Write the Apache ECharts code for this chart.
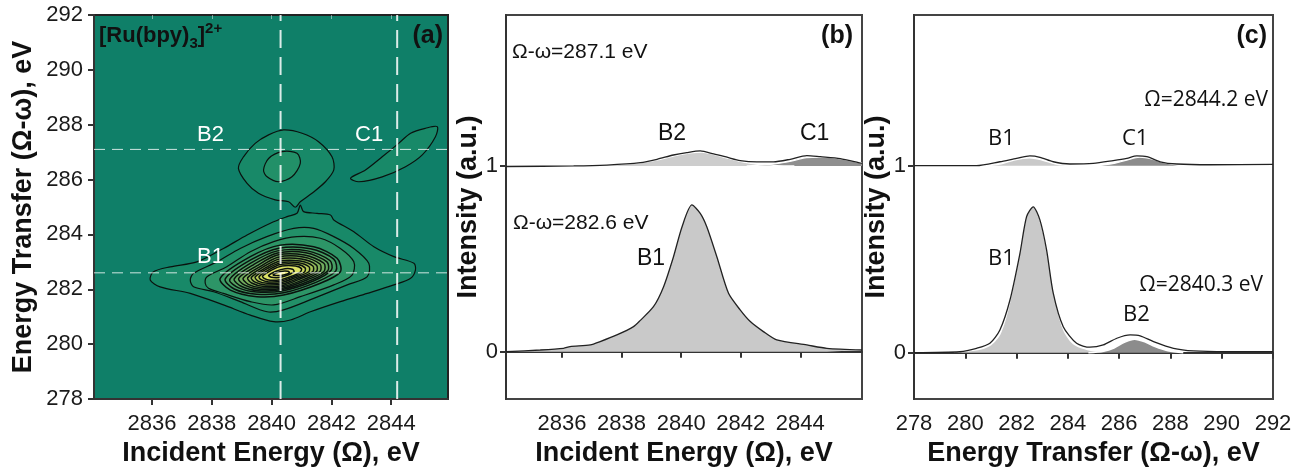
<!DOCTYPE html>
<html>
<head>
<meta charset="utf-8">
<script src="https://cdn.jsdelivr.net/npm/echarts@6/dist/echarts.min.js"></script>
<style>
  html, body { margin: 0; padding: 0; background: #fff; }
  #chart { width: 1305px; height: 467px; }
</style>
</head>
<body>
<div id="chart"></div>
<script>
// ---- data ----
// tick values
const incTicks = [2836, 2838, 2840, 2842, 2844];
const intTicks = [0, 1];

// cuts shown as dashed lines in (a)
const cutIncident = [2840.3, 2844.2];
const cutTransfer = [287.1, 282.6];

// contour rings of the RIXS map, [incident, transfer], outer -> inner
const b1Ring1 = [[2835.94,282.34],[2836.05,282.64],[2836.61,282.82],[2837.5,283.0],[2838.39,283.49],[2839.18,283.98],[2839.96,284.41],[2840.52,284.65],[2840.85,284.77],[2840.96,285.07],[2841.07,284.83],[2841.52,284.77],[2841.97,284.71],[2842.08,284.53],[2842.75,284.1],[2843.42,283.55],[2844.09,283.19],[2844.76,282.95],[2844.81,282.7],[2844.65,282.4],[2844.09,282.16],[2843.2,281.85],[2842.3,281.55],[2841.3,281.18],[2840.63,280.88],[2840.07,280.82],[2839.29,281.06],[2838.39,281.43],[2837.28,281.85],[2836.27,282.09]];
const b1Ring2 = [[2837.28,282.34],[2837.39,282.58],[2838.17,283.0],[2838.95,283.49],[2839.84,283.92],[2840.74,284.22],[2841.41,284.22],[2842.08,283.92],[2842.75,283.49],[2843.25,282.95],[2843.2,282.46],[2842.53,282.16],[2841.41,281.67],[2840.4,281.25],[2839.85,281.18],[2838.95,281.55],[2838.06,281.91],[2837.39,282.09]];
const b1Ring3 = [[2837.78,282.22],[2837.84,282.46],[2838.5,282.82],[2839.29,283.37],[2840.07,283.74],[2840.85,283.92],[2841.63,283.86],[2842.3,283.49],[2842.75,283.0],[2842.69,282.52],[2842.08,282.16],[2840.96,281.73],[2840.07,281.43],[2839.29,281.55],[2838.39,281.85],[2837.89,282.04]];
const b1Ring4 = [[2838.28,282.4],[2839.29,283.19],[2840.29,283.61],[2841.41,283.55],[2842.19,283.13],[2842.3,282.64],[2841.63,282.22],[2840.4,281.79],[2839.51,281.73],[2838.62,281.97]];
const b1Ring4b = [[2838.45,282.38],[2839.3,283.07],[2840.25,283.5],[2841.3,283.48],[2842.08,283.1],[2842.15,282.67],[2841.5,282.26],[2840.4,281.87],[2839.5,281.82],[2838.75,282.01]];
const b1Ring5 = [[2838.6,282.35],[2839.3,282.95],[2840.2,283.4],[2841.2,283.4],[2841.95,283.05],[2842.0,282.7],[2841.4,282.3],[2840.4,281.95],[2839.5,281.9],[2838.9,282.05]];
const b1Ring5b = [[2838.75,282.38],[2839.4,282.9],[2840.2,283.32],[2841.15,283.33],[2841.85,283.0],[2841.88,282.68],[2841.3,282.32],[2840.4,282.0],[2839.55,281.95],[2839.0,282.1]];
const b1Ring6 = [[2838.9,282.4],[2839.5,282.85],[2840.2,283.25],[2841.1,283.25],[2841.75,282.95],[2841.75,282.65],[2841.2,282.35],[2840.4,282.05],[2839.6,282.0],[2839.1,282.15]];
const b1Ring6b = [[2839.05,282.41],[2839.6,282.82],[2840.22,283.17],[2841.05,283.18],[2841.62,282.92],[2841.62,282.65],[2841.1,282.37],[2840.4,282.1],[2839.68,282.05],[2839.22,282.18]];
const b1Ring7 = [[2839.2,282.42],[2839.7,282.8],[2840.25,283.1],[2841.0,283.1],[2841.5,282.88],[2841.5,282.65],[2841.0,282.4],[2840.4,282.15],[2839.75,282.1],[2839.35,282.22]];
const b1Ring7b = [[2839.32,282.43],[2839.78,282.77],[2840.28,283.03],[2840.95,283.03],[2841.38,282.85],[2841.38,282.65],[2840.92,282.42],[2840.38,282.2],[2839.8,282.16],[2839.45,282.26]];
const b1Ring8 = [[2839.45,282.45],[2839.85,282.75],[2840.3,282.97],[2840.9,282.97],[2841.25,282.82],[2841.25,282.65],[2840.85,282.45],[2840.35,282.25],[2839.85,282.22],[2839.55,282.3]];
const b1Ring8b = [[2839.58,282.46],[2839.92,282.72],[2840.32,282.91],[2840.85,282.91],[2841.12,282.78],[2841.1,282.63],[2840.72,282.45],[2840.32,282.3],[2839.9,282.27],[2839.65,282.35]];
const b1Ring9 = [[2839.7,282.48],[2840.0,282.7],[2840.35,282.85],[2840.8,282.85],[2841.0,282.75],[2840.95,282.62],[2840.6,282.45],[2840.3,282.35],[2839.95,282.33],[2839.75,282.4]];
const b1Ring10 = [[2839.9,282.5],[2840.15,282.66],[2840.45,282.75],[2840.7,282.73],[2840.75,282.64],[2840.5,282.5],[2840.25,282.43],[2840.0,282.44]];
const b1Ring11 = [[2840.05,282.53],[2840.3,282.65],[2840.55,282.66],[2840.6,282.6],[2840.4,282.52],[2840.15,282.5]];
const b2Ring1 = [[2838.89,286.41],[2839.06,286.83],[2839.45,287.32],[2839.9,287.63],[2840.4,287.81],[2841.02,287.69],[2841.57,287.38],[2842.02,286.83],[2842.08,286.35],[2841.8,285.92],[2841.35,285.5],[2840.96,285.19],[2840.79,284.99],[2840.57,285.19],[2840.12,285.26],[2839.56,285.5],[2839.18,285.86]];
const b2Ring2 = [[2839.73,286.35],[2839.9,286.77],[2840.35,287.02],[2840.85,286.96],[2840.96,286.59],[2840.68,286.1],[2840.23,285.92],[2839.85,286.1]];
const c1Ring1 = [[2842.64,286.05],[2843.14,286.35],[2843.7,286.83],[2844.25,287.32],[2844.65,287.69],[2845.15,287.87],[2845.54,287.93],[2845.48,287.56],[2845.04,286.9],[2844.48,286.47],[2843.7,286.1],[2842.92,285.92]];

const contourRings = [b1Ring1, b1Ring2, b1Ring3, b1Ring4, b1Ring4b, b1Ring5, b1Ring5b, b1Ring6, b1Ring6b, b1Ring7, b1Ring7b, b1Ring8, b1Ring8b, b1Ring9, b1Ring10, b1Ring11, b2Ring1, b2Ring2, c1Ring1];
const ringLevel = [1, 2, 3, 4, 5, 6, 7, 8, 9, 10, 11, 12, 13, 14, 15, 16, 1, 2, 1];

// (b) cuts at constant energy transfer, [incident, intensity]
const bCut282 = [[2834.12,0.0],[2835.27,0.009],[2836.05,0.018],[2836.27,0.027],[2836.95,0.036],[2837.28,0.054],[2837.84,0.09],[2838.4,0.135],[2838.62,0.167],[2839.07,0.242],[2839.41,0.35],[2839.74,0.51],[2840.03,0.673],[2840.36,0.79],[2840.64,0.745],[2840.86,0.673],[2841.2,0.51],[2841.59,0.314],[2841.98,0.225],[2842.32,0.162],[2842.76,0.108],[2843.21,0.063],[2844.22,0.036],[2844.89,0.018],[2846.07,0.009]];
const bCut287 = [[2834.12,0.997],[2836.39,1.0],[2837.51,1.005],[2838.63,1.018],[2839.19,1.036],[2839.74,1.059],[2840.19,1.072],[2840.64,1.081],[2841.09,1.065],[2841.54,1.047],[2841.98,1.029],[2842.54,1.022],[2843.1,1.022],[2843.66,1.036],[2844.22,1.056],[2844.67,1.05],[2845.34,1.04],[2846.07,1.014]];
const bFitB2 = [[2836.5,1.0],[2837.5,1.004],[2838.5,1.015],[2839.2,1.033],[2839.8,1.055],[2840.3,1.07],[2840.7,1.075],[2841.1,1.062],[2841.6,1.04],[2842.1,1.02],[2842.6,1.008],[2843.2,1.002],[2843.8,1.0]];
const bFitC1 = [[2842.2,1.0],[2842.8,1.006],[2843.3,1.015],[2843.8,1.03],[2844.2,1.045],[2844.7,1.048],[2845.3,1.04],[2845.8,1.025],[2846.07,1.015]];

// (c) cuts at constant incident energy, [transfer, intensity]
const cCut2840 = [[278,0.0],[279.79,0.005],[280.44,0.023],[280.96,0.05],[281.35,0.121],[281.74,0.28],[282.13,0.53],[282.39,0.727],[282.65,0.78],[282.91,0.71],[283.17,0.55],[283.43,0.318],[283.82,0.139],[284.34,0.05],[284.86,0.029],[285.38,0.041],[285.91,0.077],[286.43,0.095],[286.82,0.09],[287.34,0.059],[288.12,0.023],[288.9,0.009],[290.2,0.005],[292,0.005]];
const cCut2844 = [[278,1.0],[280.44,1.0],[281.35,1.021],[282.0,1.039],[282.52,1.052],[282.91,1.045],[283.43,1.021],[284.08,1.009],[284.99,1.012],[285.77,1.027],[286.3,1.039],[286.69,1.052],[287.08,1.048],[287.6,1.021],[288.25,1.009],[289.55,1.005],[292,1.007]];
const cFitB1 = [[279.5,0],[280.5,0.013],[281.0,0.038],[281.4,0.105],[281.75,0.265],[282.1,0.51],[282.4,0.72],[282.65,0.78],[282.9,0.71],[283.2,0.52],[283.45,0.31],[283.8,0.125],[284.2,0.045],[284.8,0.012],[285.5,0]];
const cFitB2 = [[284.8,0],[285.4,0.008],[285.8,0.025],[286.2,0.055],[286.6,0.072],[287.0,0.058],[287.4,0.032],[287.9,0.01],[288.5,0]];
const cFitB1up = [[280.8,1.0],[281.4,1.01],[281.9,1.03],[282.5,1.042],[283.0,1.03],[283.5,1.01],[284.0,1.0]];
const cFitC1up = [[285.2,1.0],[285.8,1.012],[286.3,1.03],[286.8,1.045],[287.3,1.035],[287.8,1.015],[288.4,1.0]];

// ---- styling ----
const levelColors = ['#0f7f68', '#188968', '#229068', '#2d9567', '#3a9a66', '#479f64', '#55a462', '#63a960', '#72ae5e', '#82b35c', '#93ba5a', '#a5c258', '#b8cb58', '#cbd65c', '#dde265', '#ece970', '#f7f282'];
const sans = 'Liberation Sans, Arial, sans-serif';
const openSans = 'Open Sans, sans-serif';
const tickLbl = { fontSize: 22, color: '#1a1a1a', fontFamily: sans, formatter: v => String(v) };
const titleTxt = { fontSize: 27, fontWeight: 'bold', color: '#111', fontFamily: sans };
const frame = { show: true, lineStyle: { color: '#333', width: 2 } };
const outTick = { show: true, length: 6, lineStyle: { color: '#333', width: 2 } };

let myChart = echarts.init(document.getElementById('chart'));

function dashed(xs, ys, lineStyle) {
  return { type: 'line', xAxisIndex: 0, yAxisIndex: 0, data: xs.map((x, i) => [x, ys[i]]), showSymbol: false, silent: true, z: 5, lineStyle: lineStyle };
}
function curve(xi, yi, data, z) {
  return { type: 'line', xAxisIndex: xi, yAxisIndex: yi, data: data, showSymbol: false, smooth: 0.25, z: z, lineStyle: { color: '#222', width: 1.3 } };
}
function fill(xi, yi, data, color, base, edge, z) {
  return { type: 'line', xAxisIndex: xi, yAxisIndex: yi, data: data, showSymbol: false, smooth: 0.3, z: z,
    lineStyle: { color: '#fff', width: edge }, areaStyle: { color: color, opacity: 1, origin: base } };
}

const series = [
  {
    type: 'custom', xAxisIndex: 0, yAxisIndex: 0, z: 2, silent: true,
    data: contourRings.map(r => r[0]),
    renderItem: function (params, api) {
      const lvl = ringLevel[params.dataIndex];
      const pts = contourRings[params.dataIndex].map(p => api.coord(p));
      return { type: 'polygon', shape: { points: pts, smooth: 0.3 },
        style: { fill: levelColors[lvl], stroke: '#0a120e', lineWidth: lvl > 3 ? 1.5 : 1.2 } };
    }
  }
];
// dashed cut lines
cutIncident.forEach(x => series.push(dashed([x, x], [278, 292], { color: 'rgba(255,255,255,0.85)', width: 2, type: [18, 9] })));
cutTransfer.forEach(y => series.push(dashed([2834.06, 2845.9], [y, y], { color: 'rgba(255,255,255,0.8)', width: 1, type: [11, 7] })));

// (b)
series.push({ type: 'line', xAxisIndex: 2, yAxisIndex: 1, data: bCut282, showSymbol: false, smooth: 0.25, z: 3,
  lineStyle: { color: '#222', width: 1.3 }, areaStyle: { color: '#c9c9c9', opacity: 1, origin: 0 } });
series.push(fill(2, 1, bFitB2, '#cdcdcd', 1, 1.2, 2));
series.push(fill(2, 1, bFitC1, '#8f8f8f', 1, 1.2, 2));
series.push(curve(2, 1, bCut287, 4));
// (c)
series.push(fill(3, 2, cFitB1, '#c9c9c9', 0, 0, 2));
series.push(fill(3, 2, cFitB2, '#8c8c8c', 0, 1.5, 2));
series.push(curve(3, 2, cCut2840, 4));
series.push(fill(3, 2, cFitB1up, '#c9c9c9', 1, 1.2, 2));
series.push(fill(3, 2, cFitC1up, '#8c8c8c', 1, 1.2, 2));
series.push(curve(3, 2, cCut2844, 4));

function txt(x, y, s, size, opts) {
  return { type: 'text', x: x, y: y, z: 50, silent: true,
    style: Object.assign({ text: s, fontSize: size, fontFamily: sans, fill: '#111', verticalAlign: 'middle' }, opts || {}) };
}

myChart.setOption({
  animation: false,
  grid: [
    { left: 94, top: 15, width: 354, height: 384, outerBoundsMode: 'none', show: true, backgroundColor: '#0f7f68', borderColor: '#222', borderWidth: 2 },
    { left: 506, top: 15, width: 356, height: 384, outerBoundsMode: 'none', show: true, backgroundColor: '#fff', borderColor: '#444', borderWidth: 2 },
    { left: 914, top: 15, width: 359, height: 384, outerBoundsMode: 'none', show: true, backgroundColor: '#fff', borderColor: '#444', borderWidth: 2 }
  ],
  xAxis: [
    { type: 'value', gridIndex: 0, min: 2834.06, max: 2845.9, axisLine: frame, splitLine: { show: false },
      axisTick: Object.assign({ customValues: incTicks }, outTick), axisLabel: Object.assign({ customValues: incTicks, margin: 14 }, tickLbl),
      name: 'Incident Energy (Ω), eV', nameLocation: 'middle', nameGap: 32, nameTextStyle: titleTxt },
    { type: 'value', gridIndex: 0, position: 'top', min: 2834.06, max: 2845.9, axisLine: { show: false }, splitLine: { show: false },
      axisTick: { show: true, inside: true, length: 4, customValues: incTicks, lineStyle: { color: 'rgba(255,255,255,0.45)', width: 1 } },
      axisLabel: { show: false } },
    { type: 'value', gridIndex: 1, min: 2834.12, max: 2846.07, axisLine: frame, splitLine: { show: false },
      axisTick: Object.assign({ customValues: incTicks }, outTick), axisLabel: Object.assign({ customValues: incTicks, margin: 14 }, tickLbl),
      name: 'Incident Energy (Ω), eV', nameLocation: 'middle', nameGap: 32, nameTextStyle: titleTxt },
    { type: 'value', gridIndex: 2, min: 278, max: 292, interval: 2, axisLine: frame, splitLine: { show: false },
      axisTick: outTick, axisLabel: Object.assign({ margin: 14 }, tickLbl),
      name: 'Energy Transfer (Ω-ω), eV', nameLocation: 'middle', nameGap: 32, nameTextStyle: titleTxt }
  ],
  yAxis: [
    { type: 'value', gridIndex: 0, min: 278, max: 292, interval: 2, axisLine: frame, splitLine: { show: false },
      axisTick: outTick, axisLabel: Object.assign({ margin: 11 }, tickLbl),
      name: 'Energy Transfer (Ω-ω), eV', nameLocation: 'middle', nameGap: 57, nameRotate: 90, nameTextStyle: titleTxt },
    { type: 'value', gridIndex: 1, min: -0.255, max: 1.813, axisLine: frame, splitLine: { show: false },
      axisTick: Object.assign({ customValues: intTicks }, outTick), axisLabel: Object.assign({ customValues: intTicks, margin: 8 }, tickLbl),
      name: 'Intensity (a.u.)', nameLocation: 'middle', nameGap: 22, nameRotate: 90, nameTextStyle: titleTxt },
    { type: 'value', gridIndex: 2, min: -0.248, max: 1.806, axisLine: frame, splitLine: { show: false },
      axisTick: Object.assign({ customValues: intTicks }, outTick), axisLabel: Object.assign({ customValues: intTicks, margin: 8 }, tickLbl),
      name: 'Intensity (a.u.)', nameLocation: 'middle', nameGap: 16, nameRotate: 90, nameTextStyle: titleTxt }
  ],
  series: series,
  graphic: [
    // (a)
    txt(99, 36, '{m|[Ru(bpy)}{s|3}{m|]}{p|2+}', 22, { rich: {
      m: { fontSize: 22, fontWeight: 'bold', fontFamily: sans, fill: '#111', verticalAlign: 'middle', lineHeight: 30 },
      s: { fontSize: 15, fontWeight: 'bold', fontFamily: sans, fill: '#111', verticalAlign: 'bottom', lineHeight: 30 },
      p: { fontSize: 15, fontWeight: 'bold', fontFamily: sans, fill: '#111', verticalAlign: 'top', lineHeight: 30 } } }),
    txt(443, 36, '(a)', 25, { fontWeight: 'bold', align: 'right' }),
    txt(197, 135, 'B2', 22, { fill: '#fff' }),
    txt(355, 135, 'C1', 22, { fill: '#fff' }),
    txt(197, 257, 'B1', 22, { fill: '#fff' }),
    // (b)
    txt(853, 36, '(b)', 25, { fontWeight: 'bold', align: 'right' }),
    txt(512, 52, 'Ω-ω=287.1 eV', 21),
    txt(513, 223, 'Ω-ω=282.6 eV', 21),
    txt(658, 134, 'B2', 23),
    txt(800, 134, 'C1', 23),
    txt(637, 259, 'B1', 23),
    // (c)
    txt(1267, 36, '(c)', 25, { fontWeight: 'bold', align: 'right' }),
    txt(1268, 100, 'Ω=2844.2 eV', 21, { align: 'right', fontFamily: openSans }),
    txt(988, 139, 'B1', 22, { fontFamily: openSans }),
    txt(1122, 139, 'C1', 22, { fontFamily: openSans }),
    txt(988, 259, 'B1', 22, { fontFamily: openSans }),
    txt(1263, 285, 'Ω=2840.3 eV', 21, { align: 'right', fontFamily: openSans }),
    txt(1123, 315, 'B2', 22, { fontFamily: openSans })
  ]
});
window.onresize = myChart.resize;
</script>
</body>
</html>
